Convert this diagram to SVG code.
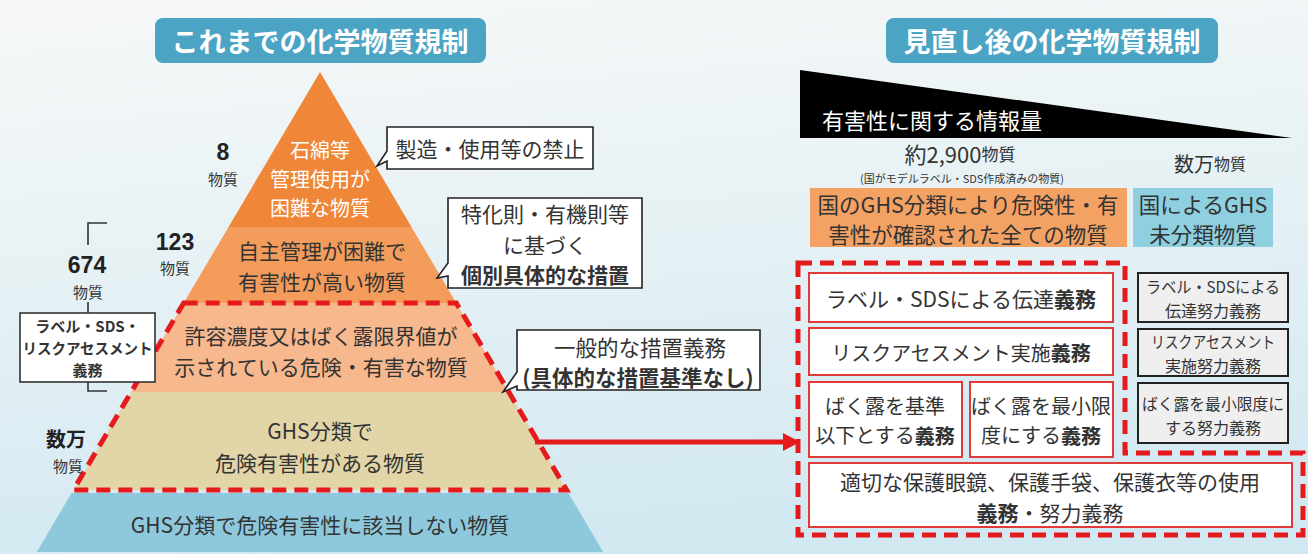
<svg xmlns="http://www.w3.org/2000/svg" width="1308" height="554" viewBox="0 0 1308 554">
<defs>
<linearGradient id="bg" x1="0" y1="0" x2="0.2" y2="1">
<stop offset="0" stop-color="#f7f8f8"/>
<stop offset="0.45" stop-color="#e8f2f5"/>
<stop offset="1" stop-color="#d3e9f2"/>
</linearGradient>
</defs>
<style>
text{font-family:"Noto Sans CJK JP","Noto Sans",sans-serif;fill:#333}
.t{font-size:21px;text-anchor:middle;dominant-baseline:central}
.b{font-weight:bold}
.w{fill:#fff}
.title{font-size:27px;font-weight:bold;fill:#fff;text-anchor:middle;dominant-baseline:central}
.tb{fill:#4ba4c4}
.dash{fill:none;stroke:#e41a1c;stroke-width:5;stroke-dasharray:14 8}
.rb{fill:#fff;stroke:#e03a3a;stroke-width:2}
.gb{fill:#efefef;stroke:#222;stroke-width:2}
.co{fill:#fff;stroke:#222;stroke-width:1.6}
.s{font-size:16px}
.n{font-family:"Liberation Sans",Arial,sans-serif;font-size:23px;font-weight:bold;fill:#222;text-anchor:middle;dominant-baseline:central}
.u{font-size:15px;text-anchor:middle;dominant-baseline:central}
</style>
<rect width="1308" height="554" fill="url(#bg)"/>

<g id="title-left">
<rect class="tb" x="155" y="18" width="331" height="45" rx="8"/>
<text class="title" x="320" y="40">これまでの化学物質規制</text>
</g>
<g id="title-right">
<rect class="tb" x="886" y="18" width="332" height="45" rx="8"/>
<text class="title" x="1052" y="40">見直し後の化学物質規制</text>
</g>

<g id="pyr-top">
<polygon points="320,72 411.5,227 228.5,227" fill="#ef8638"/>
<text class="t w" x="320" y="149" style="font-size:20px">石綿等</text>
<text class="t w" x="320" y="178" style="font-size:20px">管理使用が</text>
<text class="t w" x="320" y="207" style="font-size:20px">困難な物質</text>
</g>
<g id="pyr-2">
<polygon points="228.5,227 411.5,227 456.3,303 183.7,303" fill="#f39c5c"/>
<text class="t" x="322" y="250">自主管理が困難で</text>
<text class="t" x="322" y="281">有害性が高い物質</text>
</g>
<g id="pyr-3">
<polygon points="183.7,303 456.3,303 508.8,392 131.2,392" fill="#f7b88e"/>
<text class="t" x="321" y="335">許容濃度又はばく露限界値が</text>
<text class="t" x="321" y="366">示されている危険・有害な物質</text>
</g>
<g id="pyr-4">
<polygon points="131.2,392 508.8,392 566.6,490 73.4,490" fill="#e2d6a8"/>
<text class="t" x="320" y="430">GHS分類で</text>
<text class="t" x="320" y="462">危険有害性がある物質</text>
</g>
<g id="pyr-5">
<polygon points="71.6,493 568.4,493 603.2,552 36.8,552" fill="#8dc8dc"/>
<text class="t" x="320" y="524">GHS分類で危険有害性に該当しない物質</text>
</g>
<polygon class="dash" points="183.7,303 456.3,303 566.6,490 73.4,490"/>

<g id="count-8">
<text class="n" x="223" y="152">8</text>
<text class="u" x="223" y="178">物質</text>
</g>
<g id="count-123">
<text class="n" x="175" y="242">123</text>
<text class="u" x="175" y="267">物質</text>
</g>
<g id="count-674">
<text class="n" x="87" y="265">674</text>
<text class="u" x="88" y="291">物質</text>
</g>
<g id="count-many">
<text class="t b" x="66" y="438" style="font-size:20px;fill:#222">数万</text>
<text class="u" x="68" y="465">物質</text>
</g>
<g id="label-box">
<rect x="20" y="313" width="135" height="69" fill="#fff" stroke="#333" stroke-width="1.6"/>
<text class="t b" x="87.5" y="325" style="font-size:15px">ラベル・SDS・</text>
<text class="t b" x="87.5" y="347" style="font-size:15px" textLength="130" lengthAdjust="spacingAndGlyphs">リスクアセスメント</text>
<text class="t b" x="87.5" y="369" style="font-size:15px">義務</text>
</g>

<g id="callout-ban">
<path class="co" d="M387,127 H593 V169 H387 V161 L377,166 L387,151 Z"/>
<text class="t" x="490" y="148">製造・使用等の禁止</text>
</g>
<g id="callout-specific">
<path class="co" d="M448,198 H642 V288 H448 V276 L437,278 L448,263 Z"/>
<text class="t" x="545" y="213">特化則・有機則等</text>
<text class="t" x="545" y="243.5">に基づく</text>
<text class="t b" x="545" y="274">個別具体的な措置</text>
</g>
<g id="callout-general">
<path class="co" d="M517,330 H760 V390 H517 V386 L503,392 L517,372 Z"/>
<text class="t" x="640" y="346" style="font-size:21.5px">一般的な措置義務</text>
<text class="t b" x="638" y="376.5" style="font-size:21.5px">(具体的な措置基準なし)</text>
</g>

<g id="info-wedge">
<polygon points="800,70 800,138 1292,138" fill="#000"/>
<text class="w" x="822" y="119" style="font-size:22px;dominant-baseline:central">有害性に関する情報量</text>
</g>
<g id="count-2900">
<text x="960" y="153" text-anchor="middle" dominant-baseline="central"><tspan style="font-size:22px">約2,900</tspan><tspan style="font-size:17px">物質</tspan></text>
<text x="962" y="178" text-anchor="middle" dominant-baseline="central" style="font-size:11px">(国がモデルラベル・SDS作成済みの物質)</text>
</g>
<g id="count-manyR">
<text x="1210" y="163" text-anchor="middle" dominant-baseline="central"><tspan style="font-size:20px">数万</tspan><tspan style="font-size:16px">物質</tspan></text>
</g>
<g id="box-classified">
<rect x="810" y="188" width="317" height="59" fill="#f4a264"/>
<text class="t" x="968" y="203" style="font-size:21.5px">国のGHS分類により危険性・有</text>
<text class="t" x="968" y="233.5" style="font-size:21.5px">害性が確認された全ての物質</text>
</g>
<g id="box-unclassified">
<rect x="1133" y="188" width="140" height="59" fill="#8ecfe0"/>
<text class="t" x="1203" y="203" style="font-size:21.5px">国によるGHS</text>
<text class="t" x="1203" y="233.5" style="font-size:21.5px">未分類物質</text>
</g>

<path class="dash" d="M798,263 H1125 V453 H1303 V535 H798 Z"/>
<g id="r-label">
<rect class="rb" x="809" y="273" width="304" height="49"/>
<text class="t" x="961" y="298">ラベル・SDSによる伝達<tspan class="b">義務</tspan></text>
</g>
<g id="r-risk">
<rect class="rb" x="809" y="328" width="304" height="47"/>
<text class="t" x="961" y="352" style="font-size:20px">リスクアセスメント実施<tspan class="b">義務</tspan></text>
</g>
<g id="r-limit">
<rect class="rb" x="809" y="382" width="153" height="75"/>
<text class="t" x="885" y="405" style="font-size:20px">ばく露を基準</text>
<text class="t" x="885" y="434.5" style="font-size:20px">以下とする<tspan class="b">義務</tspan></text>
</g>
<g id="r-min">
<rect class="rb" x="970" y="382" width="143" height="75"/>
<text class="t" x="1041" y="405" style="font-size:20px">ばく露を最小限</text>
<text class="t" x="1041" y="434.5" style="font-size:20px">度にする<tspan class="b">義務</tspan></text>
</g>
<g id="r-ppe">
<rect class="rb" x="809" y="463" width="483" height="64"/>
<text class="t" x="1050" y="481">適切な保護眼鏡、保護手袋、保護衣等の使用</text>
<text class="t" x="1050" y="511.5"><tspan class="b">義務</tspan>・努力義務</text>
</g>
<g id="g-label">
<rect class="gb" x="1138" y="273" width="150" height="49"/>
<text class="t s" x="1213" y="286" textLength="134" lengthAdjust="spacingAndGlyphs">ラベル・SDSによる</text>
<text class="t s" x="1213" y="309.5">伝達努力義務</text>
</g>
<g id="g-risk">
<rect class="gb" x="1138" y="329" width="150" height="47"/>
<text class="t s" x="1213" y="341" textLength="124" lengthAdjust="spacingAndGlyphs">リスクアセスメント</text>
<text class="t s" x="1213" y="364.5">実施努力義務</text>
</g>
<g id="g-min">
<rect class="gb" x="1138" y="383" width="150" height="60"/>
<text class="t s" x="1213" y="403" textLength="142" lengthAdjust="spacingAndGlyphs">ばく露を最小限度に</text>
<text class="t s" x="1213" y="427">する努力義務</text>
</g>

<g id="connectors" fill="none" stroke="#333" stroke-width="1.6">
<path d="M107,223 H88 V245"/>
<path d="M88,302 V313"/>
<path d="M88,382 V391 H107"/>
<line x1="535" y1="442" x2="786" y2="442" stroke="#e41a1c" stroke-width="5"/>
<polygon points="783,433 800,442 783,451" fill="#e41a1c" stroke="none"/>
</g>
</svg>
